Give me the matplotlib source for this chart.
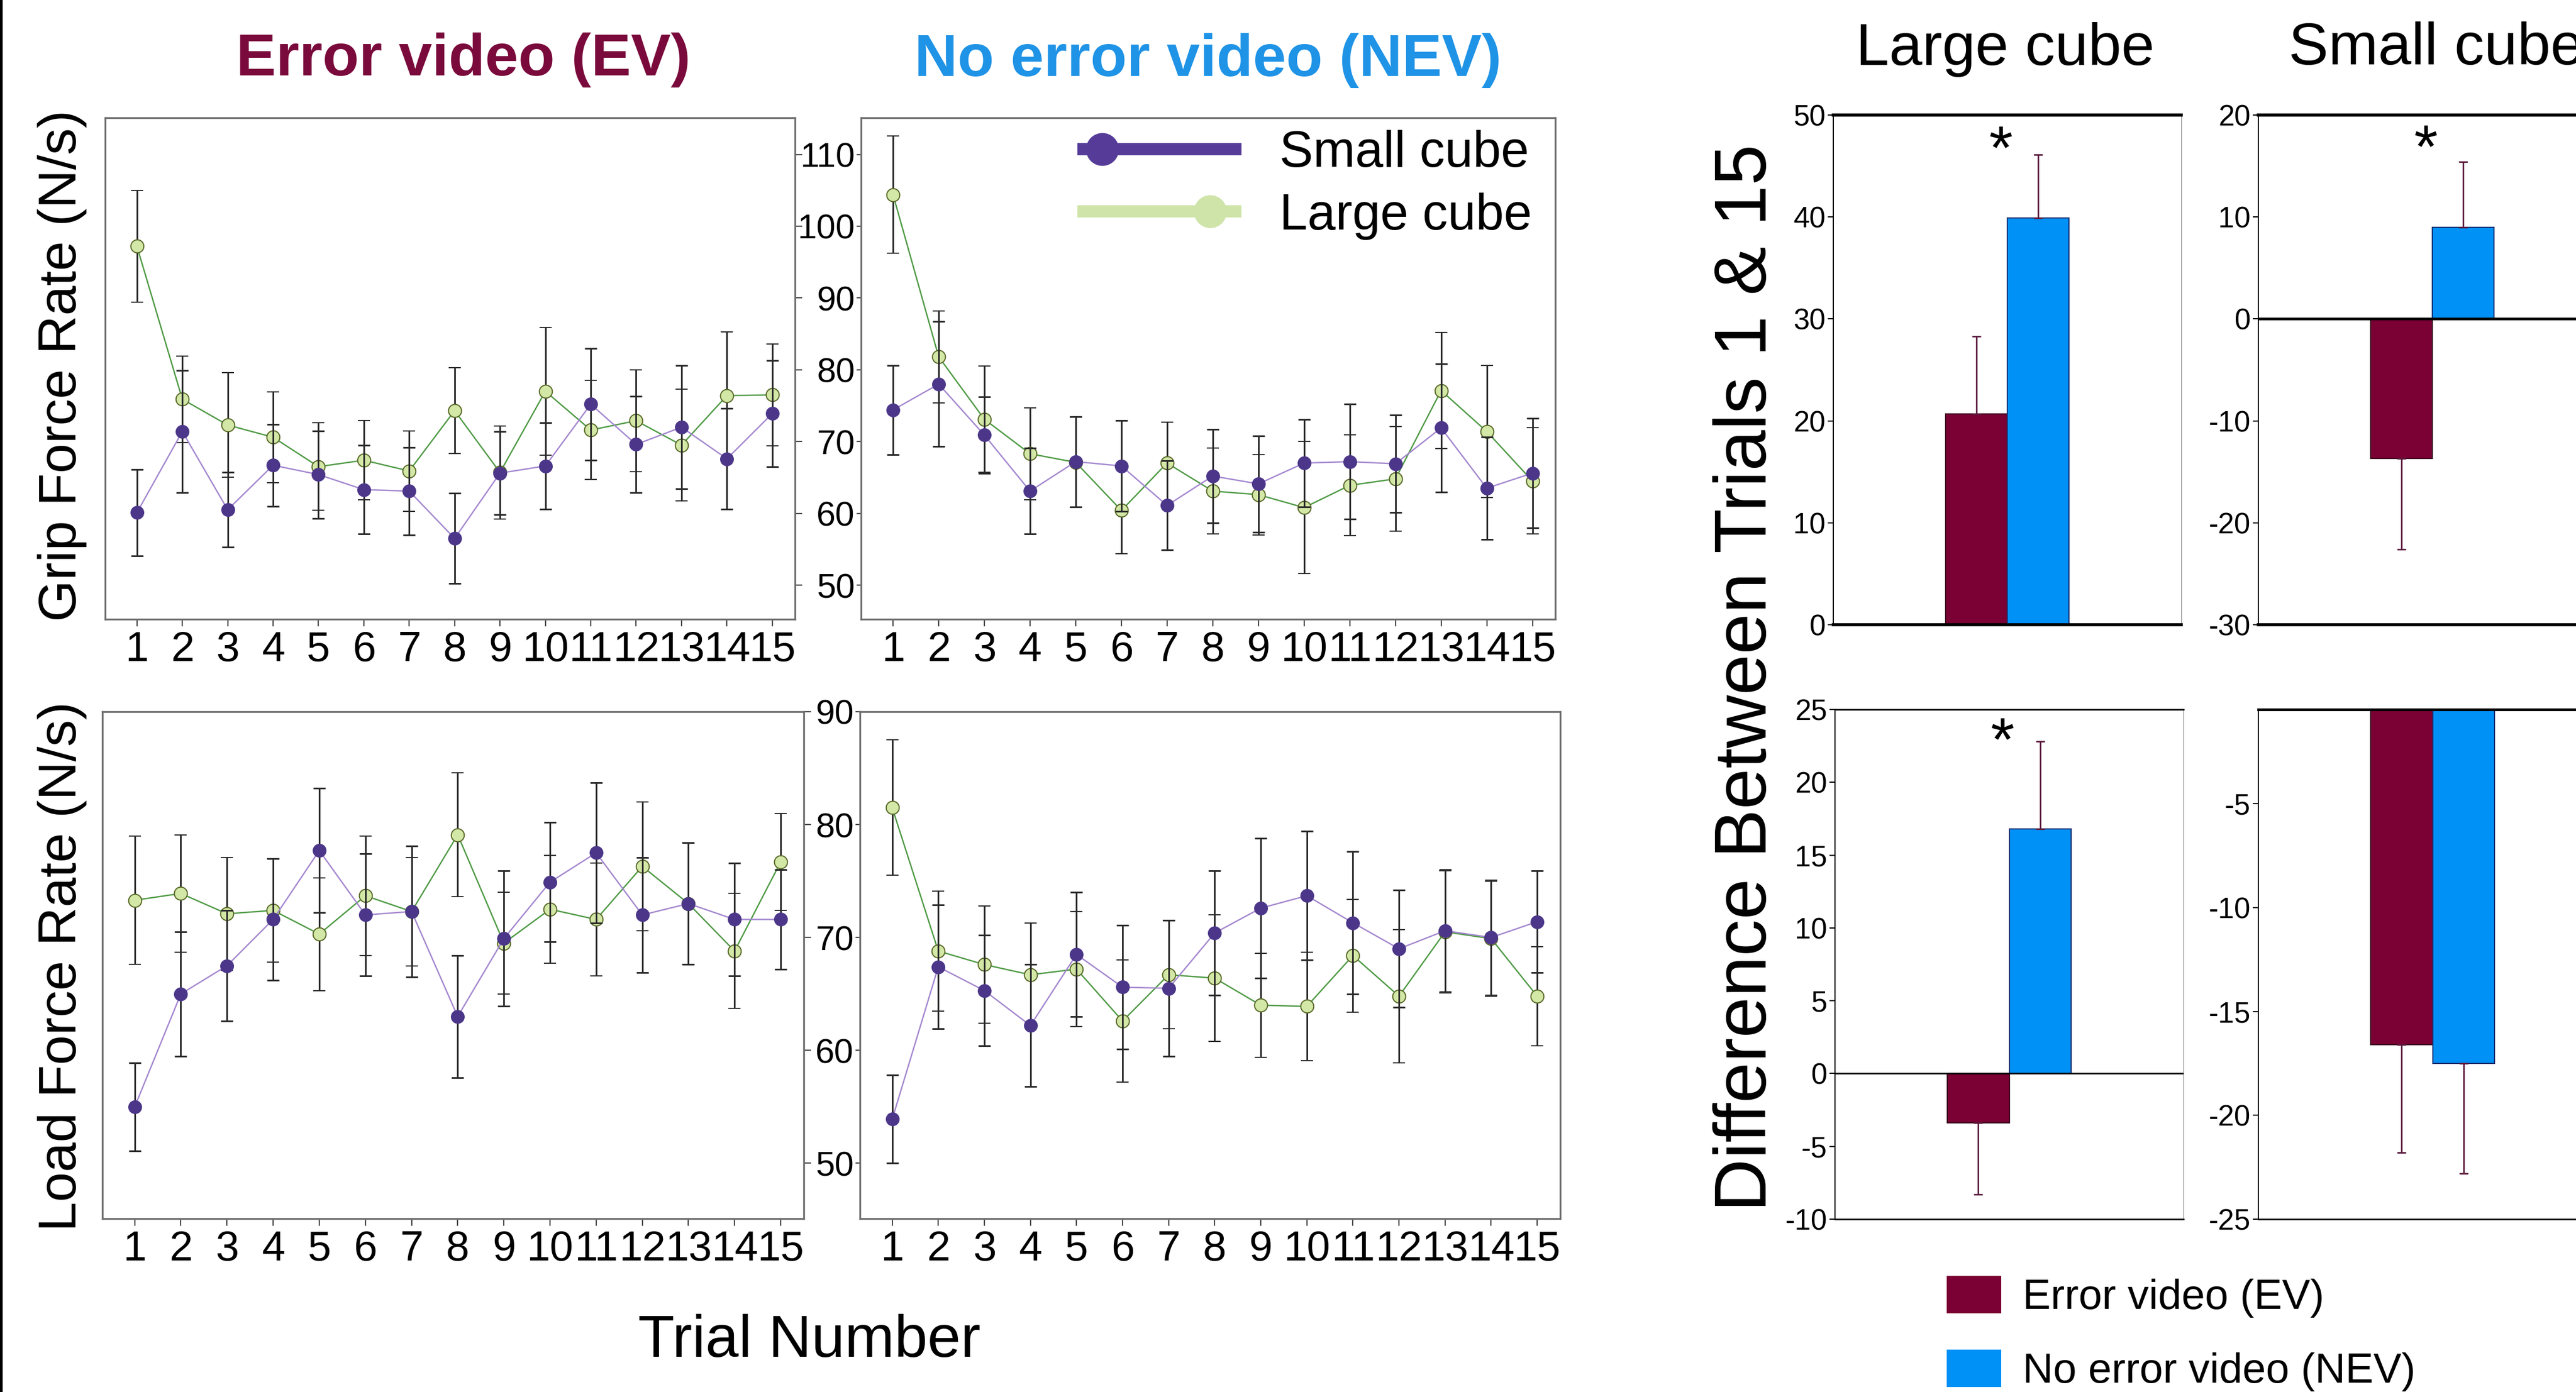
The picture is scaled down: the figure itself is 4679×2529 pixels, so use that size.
import numpy as np
import matplotlib
matplotlib.use('Agg')
import matplotlib.pyplot as plt
from matplotlib.lines import Line2D
from matplotlib.patches import Patch
from matplotlib.legend_handler import HandlerLine2D

plt.rcParams['font.family'] = ['Liberation Sans', 'DejaVu Sans']

trials = np.arange(1, 16)

# grip force rate (N/s), mean and error per trial
ev_grip_small = [60.1, 71.4, 60.5, 66.7, 65.4, 63.3, 63.1, 56.5, 65.6, 66.6, 75.2, 69.6, 72.0, 67.6, 73.9]
ev_grip_small_err = [6.0, 8.5, 5.2, 5.7, 6.1, 6.2, 6.1, 6.3, 5.8, 6.0, 7.8, 6.7, 8.6, 7.0, 7.4]
ev_grip_large = [97.2, 75.9, 72.3, 70.6, 66.5, 67.4, 65.9, 74.3, 65.7, 77.0, 71.6, 72.9, 69.5, 76.4, 76.5]
ev_grip_large_err = [7.8, 6.0, 7.3, 6.3, 6.1, 5.5, 5.6, 6.0, 6.5, 8.9, 6.9, 7.1, 7.8, 8.9, 7.1]

nev_grip_small = [74.4, 78.0, 70.9, 63.1, 67.2, 66.6, 61.1, 65.2, 64.1, 67.0, 67.2, 66.9, 71.9, 63.5, 65.6]
nev_grip_small_err = [6.2, 8.7, 5.3, 6.0, 6.3, 6.3, 6.2, 6.5, 6.7, 6.1, 8.0, 6.8, 8.9, 7.1, 7.6]
nev_grip_large = [104.4, 81.8, 73.1, 68.3, 67.1, 60.4, 67.0, 63.1, 62.6, 60.8, 63.9, 64.8, 77.1, 71.4, 64.5]
nev_grip_large_err = [8.2, 6.4, 7.4, 6.4, 6.3, 6.0, 5.7, 6.0, 5.6, 9.2, 7.0, 7.3, 8.1, 9.2, 7.4]

# load force rate (N/s)
ev_load_small = [55.0, 65.0, 67.5, 71.6, 77.7, 72.0, 72.3, 63.0, 69.9, 74.9, 77.5, 72.0, 73.0, 71.6, 71.6]
ev_load_small_err = [3.9, 5.5, 4.9, 5.4, 5.5, 5.4, 5.8, 5.4, 6.0, 5.3, 6.2, 5.1, 5.4, 5.0, 4.4]
ev_load_large = [73.3, 73.9, 72.1, 72.4, 70.3, 73.7, 72.3, 79.1, 69.5, 72.5, 71.6, 76.3, 73.0, 68.8, 76.7]
ev_load_large_err = [5.7, 5.2, 5.0, 4.6, 5.0, 5.3, 4.8, 5.5, 4.5, 4.8, 5.0, 5.7, 5.4, 5.1, 4.3]

nev_load_small = [53.9, 67.4, 65.3, 62.2, 68.5, 65.6, 65.5, 70.4, 72.6, 73.7, 71.3, 69.0, 70.6, 70.0, 71.4]
nev_load_small_err = [3.9, 5.5, 4.9, 5.4, 5.5, 5.5, 6.0, 5.5, 6.2, 5.7, 6.3, 5.2, 5.4, 5.1, 4.5]
nev_load_large = [81.5, 68.8, 67.6, 66.7, 67.2, 62.6, 66.7, 66.4, 64.0, 63.9, 68.4, 64.8, 70.5, 69.9, 64.8]
nev_load_large_err = [6.0, 5.3, 5.2, 4.6, 5.1, 5.4, 4.8, 5.6, 4.6, 4.8, 5.0, 5.9, 5.4, 5.1, 4.4]

# difference between trials 1 & 15 (EV, NEV)
conditions = ['Error video (EV)', 'No error video (NEV)']
grip_large_diff = [20.7, 39.9]
grip_large_diff_err = [7.6, 6.2]
grip_small_diff = [-13.7, 9.0]
grip_small_diff_err = [8.9, 6.4]
load_large_diff = [-3.4, 16.8]
load_large_diff_err = [4.9, 6.0]
load_small_diff = [-16.6, -17.5]
load_small_diff_err = [5.2, 5.3]

ev_col = '#7b0033'
nev_col = '#0091f7'
purple_mk = '#4b3689'
purple_ln = '#a487cf'
green_mk = '#d3e7a6'
green_ln = '#4f9a45'

W, H = 4679, 2529
fig = plt.figure(figsize=(W / 100, H / 100), dpi=100)


def px(x0, y0, x1, y1):
    return [x0 / W, 1 - y1 / H, (x1 - x0) / W, (y1 - y0) / H]


def line_panel(rect, small, small_err, large, large_err, ylim, yticks, labels_left):
    ax = fig.add_axes(rect)
    ax.errorbar(trials, large, yerr=large_err, color=green_ln, lw=1.8, marker='o', ms=17,
                mfc=green_mk, mec='#5b6b2a', mew=1.5, ecolor='#2a2a2a', elinewidth=2.2,
                capsize=8, capthick=2.2, zorder=3)
    ax.errorbar(trials, small, yerr=small_err, color=purple_ln, lw=1.8, marker='o', ms=17,
                mfc=purple_mk, mec=purple_mk, ecolor='#2a2a2a', elinewidth=2.2,
                capsize=8, capthick=2.2, zorder=4)
    ax.set_xlim(0.3, 15.5)
    ax.set_ylim(*ylim)
    ax.set_xticks(trials)
    ax.set_xticklabels([str(t) for t in trials], fontsize=55)
    ax.set_yticks(yticks)
    for s in ax.spines.values():
        s.set_color('#6e6e6e')
        s.set_linewidth(2.4)
    ax.tick_params(axis='x', direction='out', length=9, width=1.6, color='#444444', pad=6)
    if labels_left:
        ax.tick_params(axis='y', direction='out', length=6, width=1.6, color='#444444',
                       pad=2, labelsize=45)
    else:
        ax.yaxis.tick_right()
        ax.tick_params(axis='y', direction='out', length=9, width=1.6, color='#444444',
                       labelright=False)
    return ax


grip_lim = (45.25, 115.1)
load_lim = (45.1, 90.0)
grip_ticks = [50, 60, 70, 80, 90, 100, 110]
load_ticks = [50, 60, 70, 80, 90]

line_panel(px(191, 214, 1444, 1125), ev_grip_small, ev_grip_small_err, ev_grip_large,
           ev_grip_large_err, grip_lim, grip_ticks, False)
line_panel(px(1564, 214, 2825, 1125), nev_grip_small, nev_grip_small_err, nev_grip_large,
           nev_grip_large_err, grip_lim, grip_ticks, True)
line_panel(px(186, 1293, 1460, 2214), ev_load_small, ev_load_small_err, ev_load_large,
           ev_load_large_err, load_lim, load_ticks, False)
line_panel(px(1562, 1293, 2834, 2214), nev_load_small, nev_load_small_err, nev_load_large,
           nev_load_large_err, load_lim, load_ticks, True)


class EndMarker(HandlerLine2D):
    # thick legend line with the marker placed at a chosen fraction of its length
    def __init__(self, frac):
        super().__init__()
        self.frac = frac

    def create_artists(self, legend, orig_handle, xdescent, ydescent, width, height, fontsize, trans):
        y = height / 2 - ydescent
        ln = Line2D([-xdescent, width - xdescent], [y, y], color=orig_handle.get_color(),
                    lw=orig_handle.get_linewidth(), solid_capstyle='butt')
        dot = Line2D([-xdescent + self.frac * width], [y], ls='none', marker='o',
                     ms=orig_handle.get_markersize(), mfc=orig_handle.get_markerfacecolor(),
                     mec=orig_handle.get_markeredgecolor())
        ln.set_transform(trans)
        dot.set_transform(trans)
        return [ln, dot]


h_small = Line2D([], [], color='#563c98', lw=16, marker='o', ms=42, mfc='#563c98', mec='#563c98')
h_large = Line2D([], [], color='#cfe4a9', lw=16, marker='o', ms=42, mfc='#cfe4a9', mec='#cfe4a9')
fig.legend([h_small, h_large], ['Small cube', 'Large cube'], loc='upper right',
           bbox_to_anchor=(2782 / W, 1 - 236 / H), frameon=False, fontsize=66,
           handlelength=3.25, handletextpad=0.75, labelspacing=0.3, borderpad=0,
           borderaxespad=0, handler_map={h_small: EndMarker(0.15), h_large: EndMarker(0.81)})


def bar_panel(rect, diff, err, ylim, yticks, lw_top, lw_bottom, zero_lw, star_y):
    ax = fig.add_axes(rect)
    xs = [0.5 - 0.0885, 0.5 + 0.0885]
    ax.bar(xs, diff, width=0.177, color=[ev_col, nev_col],
           edgecolor=['#3a0a20', '#1b2f6e'], linewidth=1.5, zorder=2)
    for x, d, e in zip(xs, diff, err):
        yerr = [[0], [e]] if d >= 0 else [[e], [0]]
        ax.errorbar([x], [d], yerr=yerr, ecolor='#5a1a3c', elinewidth=2, capsize=6,
                    capthick=2, fmt='none', zorder=3)
    if zero_lw:
        ax.axhline(0, color='black', lw=zero_lw, zorder=4)
    if star_y is not None:
        ax.text(0.48, star_y, '*', ha='center', va='center', fontsize=80)
    ax.set_xlim(0, 1)
    ax.set_ylim(*ylim)
    ax.set_xticks([])
    ax.set_yticks(yticks)
    ax.set_yticklabels([str(t) for t in yticks], fontsize=38)
    ax.tick_params(axis='y', direction='out', length=7, width=1.5, pad=3)
    ax.spines['top'].set_linewidth(lw_top)
    ax.spines['bottom'].set_linewidth(lw_bottom)
    ax.spines['left'].set_linewidth(1.5)
    ax.spines['right'].set_linewidth(1.0)
    ax.spines['right'].set_color('#8a8a8a')
    return ax


bar_panel(px(3330, 209, 3962, 1135), grip_large_diff, grip_large_diff_err, (0, 50),
          [0, 10, 20, 30, 40, 50], 4, 4, 0, 46.3)
bar_panel(px(4102, 209, 4734, 1135), grip_small_diff, grip_small_diff_err, (-30, 20),
          [-30, -20, -10, 0, 10, 20], 4, 4, 3.5, 16.4)
bar_panel(px(3333, 1289, 3966, 2215), load_large_diff, load_large_diff_err, (-10, 25),
          [-10, -5, 0, 5, 10, 15, 20, 25], 2, 2, 2, 22.6)
bar_panel(px(4102, 1289, 4735, 2215), load_small_diff, load_small_diff_err, (-25, -0.47),
          [-25, -20, -15, -10, -5], 3.5, 2, 0, None)

fig.legend([Patch(facecolor=ev_col), Patch(facecolor=nev_col)], conditions,
           loc='upper left', bbox_to_anchor=(3536 / W, 1 - 2318 / H), frameon=False,
           fontsize=55, handlelength=1.3, handleheight=1.0, handletextpad=0.5,
           labelspacing=0.75, borderpad=0, borderaxespad=0)

# titles and shared labels
fig.text(842 / W, 1 - 137 / H, 'Error video (EV)', ha='center', va='baseline',
         fontsize=78, fontweight='bold', color='#7a0a3c')
fig.text(2194 / W, 1 - 138 / H, 'No error video (NEV)', ha='center', va='baseline',
         fontsize=78, fontweight='bold', color='#1f93e6')
fig.text(3642 / W, 1 - 118 / H, 'Large cube', ha='center', va='baseline', fontsize=78)
fig.text(4157 / W, 1 - 117 / H, 'Small cube', ha='left', va='baseline', fontsize=78)
fig.text(1470 / W, 1 - 2465 / H, 'Trial Number', ha='center', va='baseline', fontsize=78)
fig.text(113 / W, 1 - 664 / H, 'Grip Force Rate (N/s)', ha='center', va='center',
         rotation=90, fontsize=70)
fig.text(113 / W, 1 - 1756 / H, 'Load Force Rate (N/s)', ha='center', va='center',
         rotation=90, fontsize=70)
fig.text(3174 / W, 1 - 1231 / H, 'Difference Between Trials 1 & 15', ha='center', va='center',
         rotation=90, fontsize=96)

fig.add_artist(Line2D([0.0004, 0.0004], [0, 1], transform=fig.transFigure, color='black', lw=4))

fig.savefig('out.png', dpi=100)
